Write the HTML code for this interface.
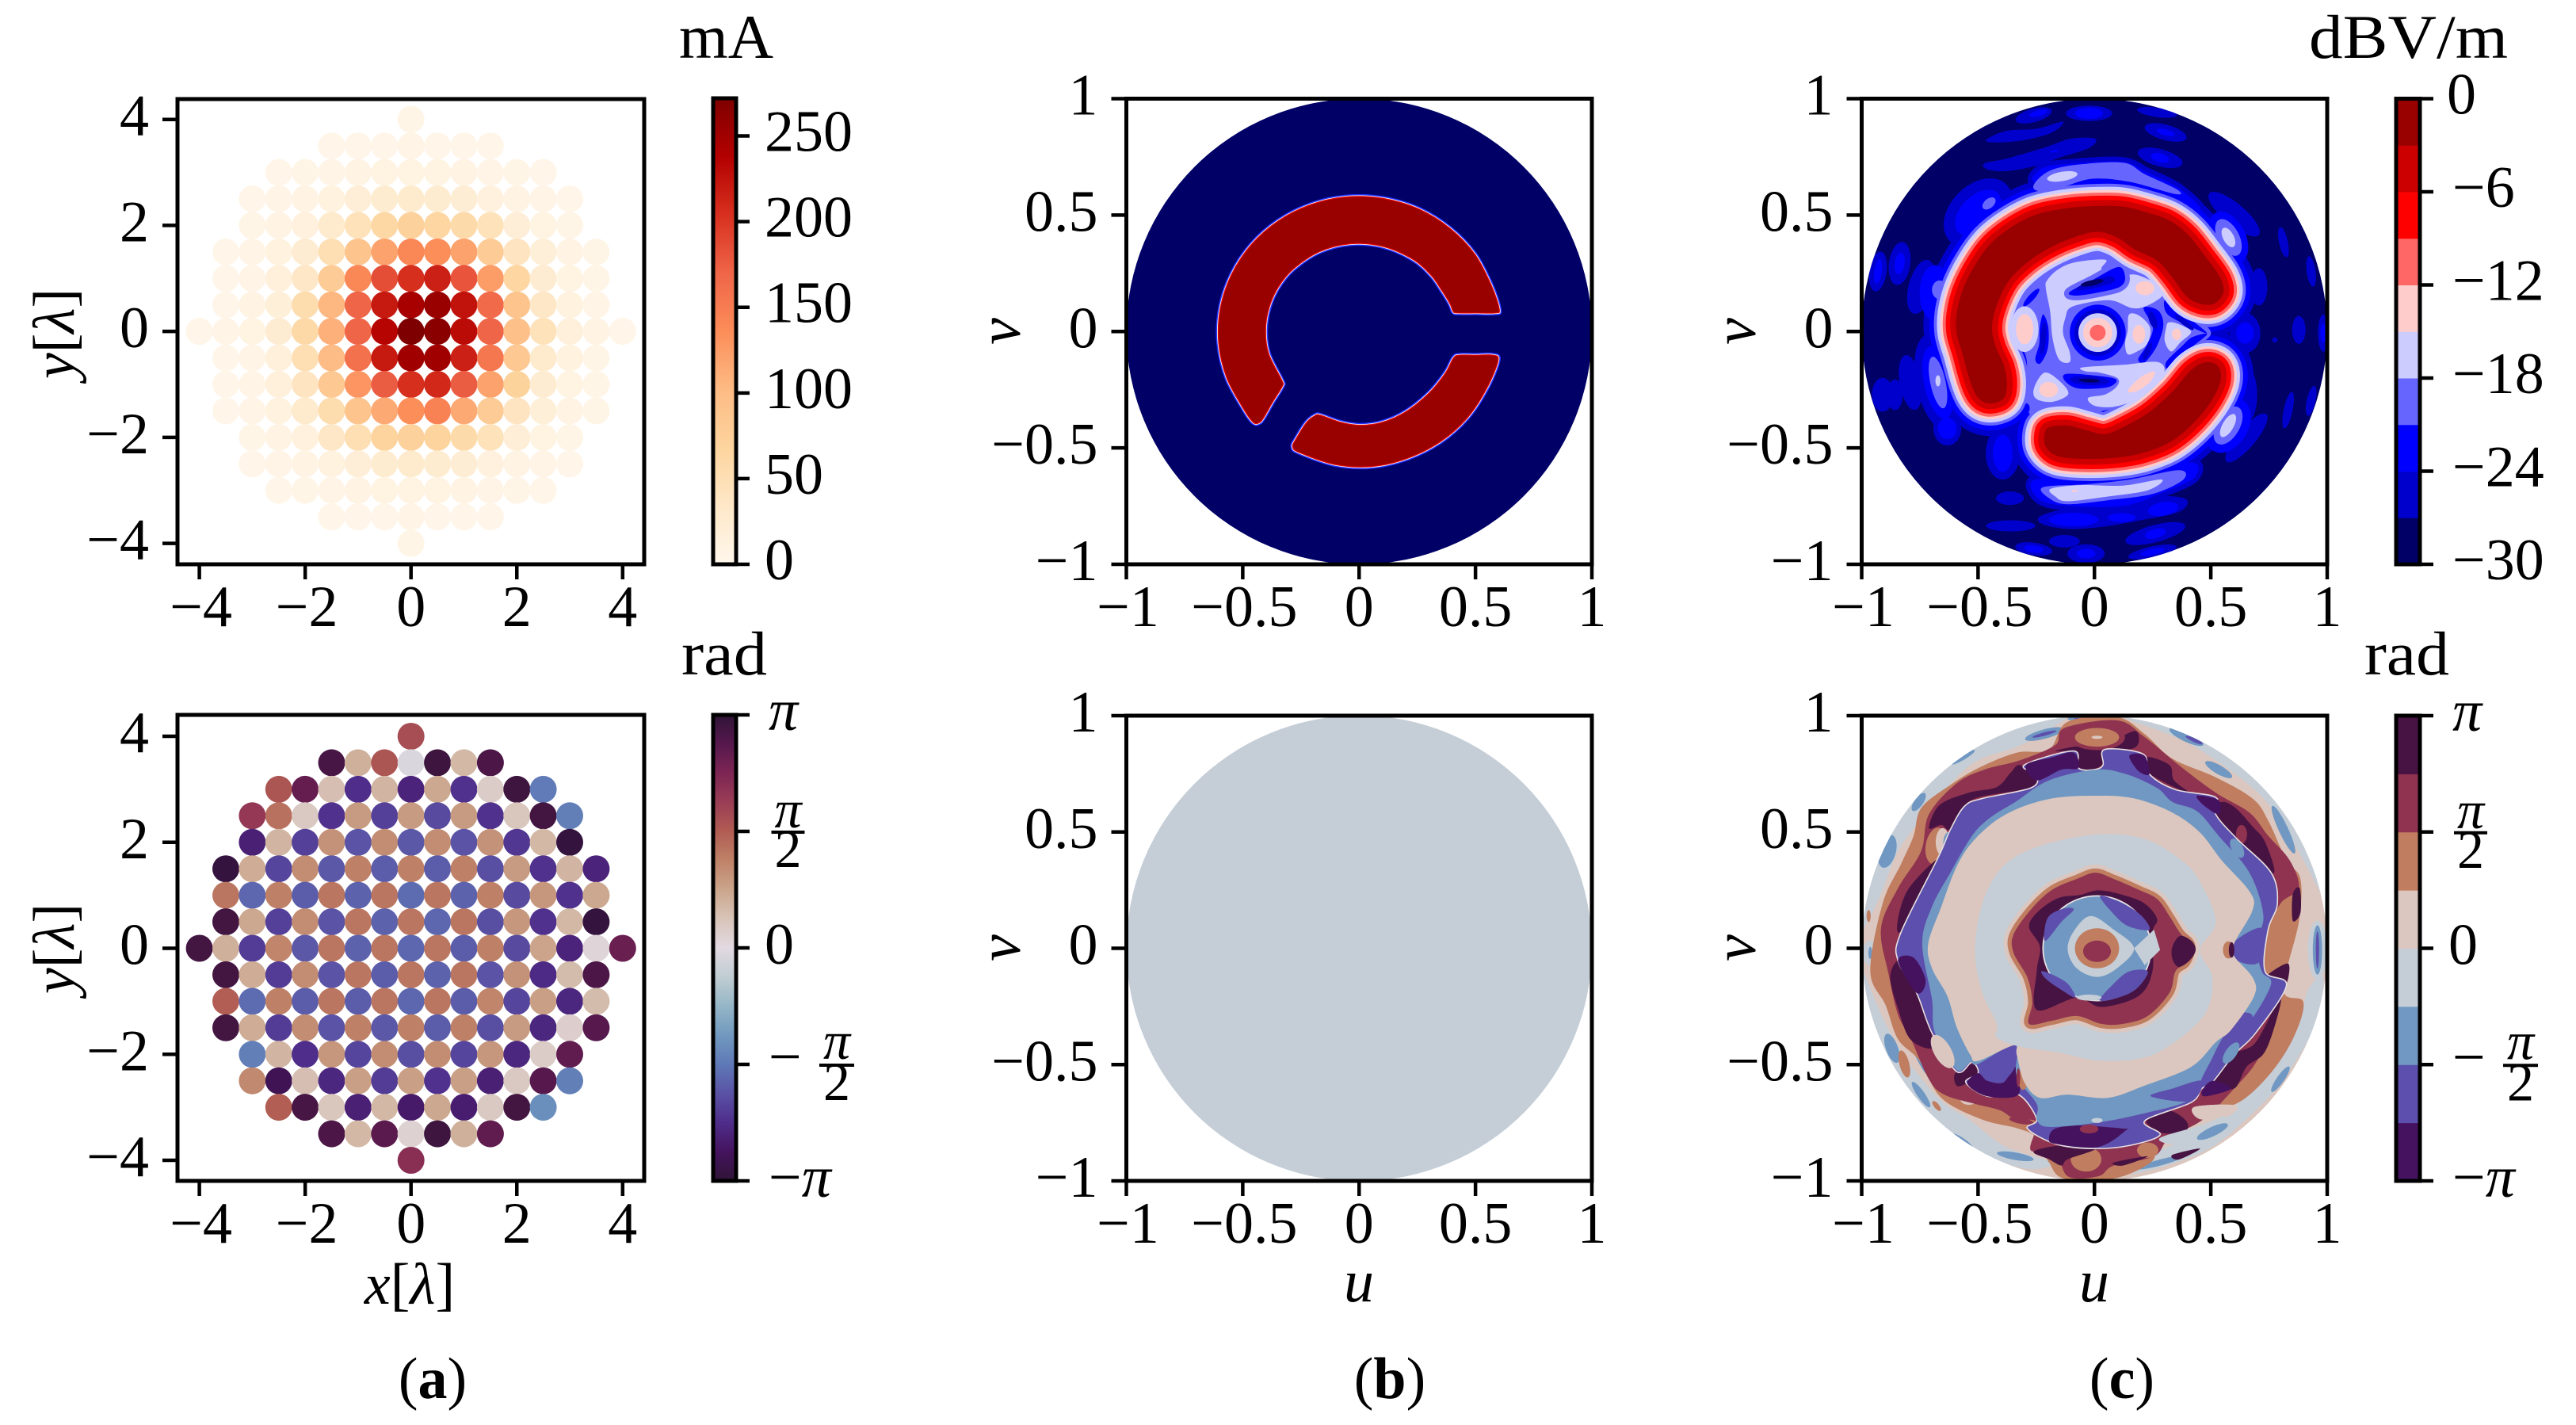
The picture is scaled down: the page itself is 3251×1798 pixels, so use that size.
<!DOCTYPE html>
<html lang="en">
<head>
<meta charset="utf-8">
<title>Antenna array excitation and radiation pattern figure</title>
<style>
html,body{margin:0;padding:0;background:#fff;}
svg{display:block;}
text{font-family:"Liberation Serif","DejaVu Serif",serif;fill:#000;}
.it{font-style:italic;}
</style>
</head>
<body>
<svg id="figure" xmlns="http://www.w3.org/2000/svg" width="3251" height="1798" viewBox="0 0 3251 1798">
<rect x="0" y="0" width="3251" height="1798" fill="#ffffff"/>
<defs>
<linearGradient id="amp-grad" x1="0" y1="1" x2="0" y2="0"></linearGradient>
<linearGradient id="phase-grad" x1="0" y1="1" x2="0" y2="0"></linearGradient>
<clipPath id="clip-c1"><circle cx="2643.25" cy="418.25" r="293.75"/></clipPath>
<clipPath id="clip-c2"><circle cx="2643.25" cy="1196.5" r="293.75"/></clipPath>
</defs>
<g id="marks"></g>
<text x="857" y="73" font-size="78" textLength="119" lengthAdjust="spacingAndGlyphs">mA</text>
<text x="860" y="851" font-size="78" textLength="108" lengthAdjust="spacingAndGlyphs">rad</text>
<text x="2914" y="73" font-size="78" textLength="251" lengthAdjust="spacingAndGlyphs">dBV/m</text>
<text x="2984" y="851" font-size="78" textLength="107" lengthAdjust="spacingAndGlyphs">rad</text>
<text transform="translate(93,421) rotate(-90)" text-anchor="middle" font-size="74"><tspan class="it">y</tspan>[<tspan class="it">λ</tspan>]</text>
<text transform="translate(93,1197) rotate(-90)" text-anchor="middle" font-size="74"><tspan class="it">y</tspan>[<tspan class="it">λ</tspan>]</text>
<text x="517" y="1645" text-anchor="middle" font-size="74"><tspan class="it">x</tspan>[<tspan class="it">λ</tspan>]</text>
<text transform="translate(1287,418) rotate(-90)" text-anchor="middle" font-size="76" class="it">v</text>
<text transform="translate(1287,1196) rotate(-90)" text-anchor="middle" font-size="76" class="it">v</text>
<text transform="translate(2215,418) rotate(-90)" text-anchor="middle" font-size="76" class="it">v</text>
<text transform="translate(2215,1196) rotate(-90)" text-anchor="middle" font-size="76" class="it">v</text>
<text x="1715" y="1642" text-anchor="middle" font-size="76" class="it">u</text>
<text x="2643" y="1642" text-anchor="middle" font-size="76" class="it">u</text>
<text x="546" y="1764" text-anchor="middle" font-size="74">(<tspan font-weight="bold">a</tspan>)</text>
<text x="1754" y="1764" text-anchor="middle" font-size="74">(<tspan font-weight="bold">b</tspan>)</text>
<text x="2678" y="1764" text-anchor="middle" font-size="74">(<tspan font-weight="bold">c</tspan>)</text>
</svg>
<script>
/* ---------- data: array element grid ---------- */
const elementRowY = [4,3.5,3,2.5,2,1.5,1,0.5,0,-0.5,-1,-1.5,-2,-2.5,-3,-3.5,-4];
const elementSpacing = 0.5;
const amplitudeRows = [
[5],
[3,4,4,6,4,4,3],
[4,5,6,8,10,10,10,8,6,5,4],
[4,6,8,12,20,26,28,26,22,14,8,6,4],
[5,8,14,30,45,62,72,65,58,45,20,10,5],
[3,6,12,25,50,90,120,140,135,120,80,40,18,8,5],
[3,6,15,35,80,140,185,205,215,180,125,65,25,10,5],
[4,8,18,55,105,170,220,245,255,225,165,90,35,12,6],
[4,6,10,25,60,110,170,235,272,265,230,170,95,45,15,8,4],
[3,7,15,50,100,160,220,250,250,215,155,85,30,12,5],
[3,6,15,40,85,130,175,205,210,175,120,70,25,10,5],
[3,6,12,30,55,90,115,135,145,115,80,40,18,8,5],
[5,8,14,35,50,68,72,68,58,45,20,10,5],
[4,6,8,12,20,26,30,26,22,14,8,6,4],
[4,5,6,8,10,10,10,8,6,5,4],
[3,4,4,6,4,4,3],
[5]
];
const phaseRows = [
[1.75],
[2.9,0.65,1.65,-0.1,3.0,0.55,2.85],
[1.65,2.6,0.45,-2.35,0.6,-2.5,0.75,-2.3,0.25,3.0,-1.55],
[2.05,1.35,0.3,-2.3,0.9,-2.15,0.9,-2.05,0.9,-2.3,0.35,2.95,-1.5],
[-2.55,0.6,-2.15,1.0,-1.95,1.05,-1.9,1.05,-1.95,1.0,-2.25,0.55,-3.05],
[-3.05,0.7,-2.1,1.05,-1.9,1.2,-1.85,1.2,-1.85,1.2,-2.0,0.9,-2.3,0.6,-2.5],
[1.3,-1.75,1.2,-1.85,1.3,-1.8,1.3,-1.7,1.3,-1.8,1.2,-2.05,0.95,-2.3,0.75],
[2.95,0.75,-2.15,1.05,-1.95,1.3,-1.8,1.3,-1.75,1.3,-2.0,0.95,-2.3,0.55,-3.05],
[2.95,0.65,-2.2,1.15,-1.9,1.3,-1.8,1.3,-1.75,1.3,-1.85,1.2,-2.05,0.8,-2.5,0.1,2.55],
[2.95,0.7,-2.2,1.05,-1.95,1.3,-1.85,1.3,-1.8,1.3,-1.95,1.0,-2.4,0.5,2.85],
[1.55,-1.7,1.2,-1.85,1.3,-1.85,1.3,-1.75,1.3,-1.85,1.15,-2.1,0.85,-2.45,0.5],
[2.95,0.7,-2.2,1.05,-1.95,1.2,-1.9,1.2,-1.85,1.2,-2.0,0.9,-2.45,0.2,2.75],
[-1.5,0.6,-2.35,0.95,-2.1,1.05,-2.0,1.05,-2.1,0.95,-2.45,0.25,2.65],
[1.1,-2.85,0.45,-2.45,0.85,-2.2,0.85,-2.3,0.85,-2.55,0.3,2.75,-1.5],
[1.55,2.9,0.35,-2.55,0.55,-2.65,0.75,-2.6,0.3,2.95,-1.3],
[2.85,0.55,2.7,0.15,3.0,0.65,2.65],
[2.2]
];
const amplitudeMax = 272;

/* ---------- colormaps ---------- */
const orRdStops = ['#fff7ec','#fee8c8','#fdd49e','#fdbb84','#fc8d59','#ef6548','#d7301f','#b30000','#7f0000'];
const twilightStops = ['#2f1436','#45135e','#4e2d8a','#5a52a5','#5f79b7','#7199bf','#95b6c6','#c0cdd2','#e2d9e2','#d8c4b8','#cba58c','#bf8268','#b15c53','#9a3d55','#7d2554','#56184d','#2f1436'];
const dbBandColors = ['#000066','#0000cc','#0000ff','#6666ff','#ccccff','#ffcccc','#ff6666','#ff0000','#cc0000','#990000'];
const phaseBandColors = ['#45125f','#5d4fad','#7098c2','#c5ced7','#dbc7bf','#c07d60','#8f3350','#471342'];
const dbBandStep = 3, dbMin = -30;

/* ---------- ticks ---------- */
const arrayTicks = [-4,-2,0,2,4];
const arrayTickLabels = ['−4','−2','0','2','4'];
const uvTicks = [-1,-0.5,0,0.5,1];
const uvTickLabels = ['−1','−0.5','0','0.5','1'];
const ampBarTicks = [0,50,100,150,200,250];
const dbBarTicks = [-30,-24,-18,-12,-6,0];
const dbBarTickLabels = ['−30','−24','−18','−12','−6','0'];
const phaseBarTicks = [-Math.PI,-Math.PI/2,0,Math.PI/2,Math.PI];

/* ---------- beam target mask (panel b top) ---------- */
const maskUpperSegment = [.425,.08,.5,.08,.585,.08,.602,.095,.568,.198,.496,.333,.389,.444,.256,.526,.105,.571,-.053,.578,-.207,.545,-.347,.475,-.463,.373,-.548,.245,-.596,.101,-.603,-.051,-.569,-.198,-.496,-.333,-.455,-.39,-.43,-.392,-.41,-.37,-.37,-.3,-.33,-.235,-.332,-.21,-.388,-.098,-.402,0,-.388,.098,-.348,.189,-.284,.267,-.17,.343,-.035,.377,.104,.365,.231,.31,.308,.243,.355,.177,.39,.12,.405,.085];
const maskLowerSegment = [.43,-.102,.5,-.102,.575,-.102,.597,-.125,.548,-.245,.463,-.373,.347,-.475,.207,-.545,.053,-.58,-.105,-.571,-.256,-.52,-.285,-.495,-.27,-.46,-.225,-.39,-.19,-.362,-.166,-.36,-.08,-.39,.005,-.403,.1,-.39,.2,-.345,.3,-.265,.37,-.18,.405,-.115];

/* ---------- realised pattern magnitude (panel c top), values in dB ---------- */
function E(val,u,v,ru,rv,rot){return {val:val,ell:[u,v,ru,rv,rot||0]};}
function P(val,pts,grow,straight){return {val:val,pts:pts,grow:grow||0,straight:!!straight};}

const ridgeUpper = [-.453,-.309,-.393,-.291,-.376,-.232,-.387,-.152,-.426,-.06,-.44,.02,-.42,.113,-.367,.219,-.287,.298,-.195,.358,-.089,.404,.011,.428,.097,.404,.176,.351,.269,.305,.335,.232,.395,.152,.454,.119,.514,.119,.554,.166,.54,.232,.474,.325,.401,.417,.322,.477,.229,.51,.123,.536,.017,.539,-.115,.53,-.248,.503,-.354,.45,-.446,.377,-.513,.285,-.566,.179,-.592,.073,-.592,-.007,-.566,-.099,-.532,-.219,-.499,-.285];
const ridgeLower = [-.195,-.411,-.115,-.404,-.036,-.424,.044,-.441,.123,-.411,.229,-.351,.335,-.258,.415,-.166,.481,-.132,.534,-.152,.54,-.219,.494,-.311,.415,-.404,.322,-.477,.203,-.523,.083,-.543,-.049,-.547,-.155,-.536,-.208,-.497,-.215,-.444];
const ridgeSkirtDb = [-25.5,-22.5,-19.5];
const ridgeSkirtWidth = [.14,.115,.095];
const ridgeCoreDb = [-16.5,-13.5,-10.5,-7.5,-4.5,-1.5];
const ridgeCoreWidth = [.082,.068,.057,.044,.025,0];
const farLevels = [-25.5,-22.5,-19.5,-16.5,-13.5];

const topBandOuter = [-.261,.643,-.221,.702,-.089,.722,.123,.729,.229,.682,.362,.616,.454,.523,.282,.576,-.115,.616];
const bottomBandOuter = [-.268,-.643,-.115,-.629,.15,-.636,.415,-.563,.428,-.629,.282,-.696,.123,-.749,-.115,-.749,-.235,-.722];

const farField = [
E(-25.5,-.261,.928,.08,.029,-15),E(-25.5,-.023,.937,.099,.033),E(-25.5,.269,.941,.086,.02,8),E(-25.5,.306,.855,.093,.033,15),E(-25.5,.282,.746,.099,.037,15),
P(-25.5,[-.466,.822,-.38,.861,-.248,.871,-.135,.901,-.182,.855,-.301,.822,-.42,.812]),
P(-25.5,[-.473,.722,-.38,.742,-.221,.788,-.102,.828,.004,.828,-.023,.788,-.142,.749,-.261,.709,-.38,.689,-.46,.696]),
E(-25.5,.6,.504,.139,.046,40),E(-25.5,.812,.384,.019,.066,-12),E(-25.5,.931,.258,.019,.066,-8),E(-25.5,.706,.192,.037,.08),
E(-25.5,.878,.007,.029,.06),E(-25.5,.984,-.007,.024,.08),E(-25.5,.647,-.007,.066,.086),E(-25.5,.775,-.036,.011,.011),
E(-25.5,.653,-.457,.133,.04,-50),E(-25.5,.832,-.338,.019,.08,12),E(-25.5,.931,-.298,.019,.066,12),E(-25.5,.653,-.272,.046,.119),
E(-25.5,-.93,.258,.037,.086,8),E(-25.5,-.837,.292,.046,.093,8),E(-25.5,-.745,.192,.053,.119,15),E(-25.5,-.91,-.272,.046,.073),
E(-25.5,-.857,-.272,.033,.066),E(-25.5,-.791,-.219,.046,.119,-10),E(-25.5,-.672,-.219,.093,.212,-12),E(-25.5,-.632,-.417,.06,.073),
E(-25.5,-.394,-.523,.073,.113),E(-25.5,-.5,.51,.172,.119,-45),E(-25.5,-.363,-.716,.06,.029),
P(-25.5,[-.235,-.795,-.115,-.762,.123,-.755,.282,-.709,.395,-.722,.362,-.775,.176,-.815,.017,-.841,-.115,-.848,-.221,-.828]),
E(-25.5,-.36,-.835,.106,.024),E(-25.5,.262,-.868,.133,.037,-15),E(-25.5,-.129,-.901,.066,.027),E(-25.5,-.261,-.934,.08,.027,8),
E(-25.5,-.036,-.954,.08,.04),E(-25.5,.249,-.947,.106,.024,-12),
P(-25.5,topBandOuter,.02),P(-25.5,bottomBandOuter,.02),
E(-22.5,-.241,.937,.04,.013,-15),E(-22.5,-.023,.937,.06,.024),E(-22.5,.306,.855,.04,.013,15),E(-22.5,.282,.746,.04,.019,15),
E(-22.5,-.173,.775,.02,.005,-10),
E(-22.5,.647,-.007,.037,.046),E(-22.5,.984,-.007,.013,.04),E(-22.5,-.93,.258,.016,.053,8),E(-22.5,-.837,.292,.021,.046,8),
E(-22.5,-.672,-.219,.06,.159,-12),E(-22.5,-.685,.166,.066,.119),E(-22.5,-.632,-.417,.04,.046),E(-22.5,-.394,-.523,.042,.08),
E(-22.5,-.5,.51,.119,.073,-45),
P(-22.5,topBandOuter),P(-22.5,bottomBandOuter),
E(-22.5,-.089,-.808,.106,.029),E(-22.5,.117,-.799,.06,.019),E(-22.5,.295,-.762,.066,.029,-10),E(-22.5,.262,-.868,.046,.02,-15),
E(-22.5,-.261,-.934,.04,.016,8),E(-22.5,-.036,-.954,.04,.02),E(-22.5,.249,-.947,.053,.013,-12),
E(-22.5,.576,.404,.073,.119,-28),E(-22.5,.574,-.404,.086,.126,30),
P(-19.5,[-.261,.629,-.195,.689,-.076,.716,.123,.725,.216,.676,.355,.61,.348,.59,.15,.643,-.009,.656,-.129,.623,-.235,.603]),
E(-19.5,-.453,.55,.033,.02,-40),E(-19.5,-.665,.179,.033,.04),E(-19.5,-.672,-.219,.033,.113,-12),E(-19.5,.576,.404,.046,.086,-28),E(-19.5,.574,-.404,.05,.09,30),
P(-19.5,[-.221,-.669,-.036,-.656,.15,-.636,.362,-.596,.382,-.636,.256,-.696,.083,-.722,-.115,-.742,-.195,-.716]),
E(-16.5,-.138,.666,.066,.02,-10),E(-16.5,.576,.404,.023,.046,-28),E(-16.5,.574,-.404,.024,.056,30),E(-16.5,-.672,-.212,.011,.024),
P(-16.5,[-.188,-.676,-.062,-.66,.123,-.662,.289,-.636,.229,-.682,.057,-.709,-.115,-.729,-.168,-.709]),
E(-13.5,-.086,-.685,.013,.004)
];

const innerField = [
P(-19.5,[-.373,.005,-.317,.152,-.203,.265,-.056,.345,.047,.345,.149,.288,.285,.197,.376,.095,.501,-.007,.376,-.098,.285,-.2,.149,-.302,.001,-.347,-.146,-.347,-.283,-.347,-.294,-.109]),
P(-16.5,[-.084,.297,.047,.308,.03,.268,.081,.243,.132,.243,.183,.243,.251,.214,.296,.18,.285,.146,.217,.107,.16,.101,.081,.132,.001,.129,-.101,.104,-.124,.061,-.135,-.007,-.107,-.086,-.107,-.132,-.152,-.12,-.18,-.029,-.19,.084,-.209,.186,-.203,.22,-.158,.265]),
E(-13.5,.217,.186,.04,.03),
P(-19.5,[-.107,.169,-.01,.22,.103,.277,.132,.231,.109,.192,.024,.169,-.078,.154],.02),
P(-22.5,[-.107,.169,-.01,.22,.103,.277,.132,.231,.109,.192,.024,.169,-.078,.154]),
P(-25.5,[-.078,.186,-.01,.22,.069,.237,.086,.214,.024,.192,-.061,.177]),
E(-28.5,-.01,.209,.05,.012,-12),
E(-22.5,-.271,.146,.05,.013,-48),
P(-22.5,[-.22,.073,-.198,.016,-.201,-.075,-.232,-.137,-.254,-.12,-.237,-.052,-.235,.016]),
E(-25.5,-.22,-.029,.012,.07,5),
E(-19.5,.014,-.005,.135,.135),E(-22.5,.014,-.005,.12,.12),E(-25.5,.014,-.005,.10,.10),E(-16.5,.014,-.005,.083,.083),E(-13.5,.014,-.005,.0625,.0625),E(-10.5,.014,-.005,.034,.034),
P(-16.5,[.149,.073,.194,.067,.239,.016,.228,-.052,.183,-.086,.143,-.098,.132,-.052,.143,.005]),
E(-13.5,.191,-.012,.027,.04),
P(-22.5,[.211,.101,.274,.09,.296,.027,.268,-.063,.217,-.132,.188,-.12,.222,-.063,.251,.016]),
E(-25.5,.251,.05,.016,.04,-20),E(-25.5,.228,-.086,.012,.04,25),
P(-16.5,[.319,.039,.359,.033,.415,-.001,.37,-.046,.33,-.086,.302,-.041,.308,.016]),
E(-13.5,.353,-.012,.02,.025),
P(-22.5,[.308,.135,.387,.073,.484,-.007,.41,.022,.33,.061,.302,.095]),
P(-22.5,[.484,-.012,.41,-.075,.325,-.16,.308,-.132,.376,-.063,.421,-.024]),
E(-25.5,.387,.039,.05,.012,38),
E(-16.5,-.30,.01,.06,.098),E(-13.5,-.30,.01,.037,.065),
P(-16.5,[-.26,-.245,-.215,-.177,-.152,-.211,-.112,-.268,-.18,-.302,-.249,-.29]),
E(-13.5,-.197,-.25,.04,.033),
P(-22.5,[-.124,-.183,-.01,-.188,.092,-.205,.058,-.239,-.067,-.245,-.124,-.215]),
E(-25.5,-.022,-.211,.085,.02,3),E(-28.5,-.022,-.211,.045,.008,3),
P(-16.5,[-.05,-.154,.126,-.143,.274,-.132,.296,-.188,.205,-.279,.092,-.322,.001,-.319,-.027,-.285,.047,-.27,.098,-.234,.098,-.2,.024,-.177,-.039,-.171]),
P(-13.5,[.143,-.256,.194,-.2,.257,-.171,.24,-.216,.183,-.256]),
E(-22.5,-.29,-.33,.012,.02)
];

/* ---------- realised pattern phase (panel c bottom), values in rad ---------- */
const phaseOuterLayers = [
E(.39,0,0,1,1),
P(-.39,[.123,.994,.335,.947,.574,.828,.746,.669,.878,.484,.984,.219,.891,.391,.772,.59,.64,.722,.428,.868,.282,.934]),
P(-.39,[-.115,1,-.301,.96,-.539,.868,-.711,.735,-.87,.51,-.989,.232,-.996,.086,-.923,.219,-.844,.417,-.738,.563,-.592,.735,-.486,.815,-.327,.868,-.195,.941]),
P(-.39,[-.996,-.099,-.963,-.285,-.87,-.51,-.725,-.709,-.539,-.854,-.301,-.947,-.181,-.921,-.38,-.854,-.539,-.735,-.658,-.656,-.791,-.497,-.897,-.325]),
P(-.39,[.984,-.126,.944,-.338,.812,-.563,.666,-.722,.481,-.868,.216,-.96,.11,-.947,.454,-.788,.64,-.642,.852,-.378,.918,-.179]),
E(-.39,.958,-.007,.042,.126),E(-1.18,.958,-.007,.02,.106),E(-1.96,.958,-.007,.007,.08),
E(-.39,-.963,-.02,.033,.053),E(-1.18,-.963,-.02,.008,.026),E(1.18,-.97,.139,.009,.026),
E(-1.18,-.89,.417,.037,.073,15),E(-1.18,-.755,.629,.019,.046,35),E(-1.18,-.566,.821,.06,.012,-30),
E(-1.18,-.215,.921,.086,.02,-15),E(-1.96,-.215,.921,.053,.007,-15),
E(-1.18,.534,.768,.066,.019,30),E(-1.18,.395,.908,.08,.02,25),E(-1.96,.428,.895,.04,.008,25),
E(-1.18,.812,.51,.02,.113,-25),E(-1.18,-.023,.987,.093,.013),E(-1.96,-.023,.987,.066,.004),
E(-1.18,-.87,-.43,.026,.066,-20),E(-1.18,-.758,-.457,.013,.093,-25),E(-1.18,-.745,-.629,.016,.066,-35),
E(1.18,-.817,-.497,.021,.06,-15),E(1.18,-.678,-.678,.011,.026,-40),E(-1.18,-.566,-.828,.053,.011,35),
E(-1.18,.799,-.563,.016,.066,35),E(-1.18,-.34,-.894,.08,.016,10),E(-1.18,.282,-.921,.106,.013,-15),
P(1.18,[-.334,.841,-.486,.781,-.619,.702,-.744,.603,-.777,.483,-.83,.364,-.91,.192,-.963,-.099,-.897,-.245,-.844,-.391,-.751,-.484,-.658,-.643,-.486,-.735,-.327,-.775,-.248,-.815,-.195,-.921,-.129,-.99,.083,-.99,.242,-.921,.282,-.841,.454,-.682,.607,-.669,.746,-.55,.852,-.391,.898,-.232,.812,-.179,.878,.113,.885,.298,.825,.378,.746,.55,.68,.643,.521,.735,.335,.815,.216,.921,.097,.994,-.115,.974,-.195,.855]),
E(.39,-.539,-.649,.037,.024),
P(1.96,[-.321,.808,-.473,.768,-.592,.709,-.711,.576,-.745,.417,-.844,.258,-.917,.086,-.884,-.113,-.844,-.285,-.791,-.384,-.711,-.563,-.645,-.629,-.513,-.669,-.407,-.696,-.341,-.735,-.248,-.749,-.274,-.868,-.168,-.868,-.115,-.98,.017,-.98,.083,-.934,.256,-.894,.322,-.815,.468,-.735,.6,-.603,.706,-.47,.799,-.232,.832,-.099,.739,-.113,.733,.046,.799,.192,.878,.258,.839,.378,.746,.484,.666,.583,.521,.669,.362,.788,.216,.908,.097,.98,-.129,.947,-.168,.874]),
E(1.18,-.036,-.907,.066,.053),E(1.18,.229,-.868,.046,.033),
E(1.18,-.68,.44,.045,.08,10),E(.39,-.652,.457,.03,.06),E(-1.18,-.625,.45,.025,.05),
P(2.75,[-.711,.517,-.665,.616,-.539,.669,-.42,.693,-.36,.755,-.321,.788,-.248,.742,-.281,.689,-.499,.649,-.572,.596,-.619,.51,-.658,.53]),
P(2.75,[-.844,.126,-.797,.258,-.671,.384,-.724,.258,-.832,.073]),
P(2.75,[-.844,-.053,-.877,-.126,-.844,-.258,-.791,-.391,-.698,-.43,-.705,-.351,-.764,-.192,-.791,-.099]),
P(2.75,[-.168,.848,-.076,.868,.004,.868,.083,.894,.176,.934,.189,.881,.15,.855,.044,.855,.037,.795,-.009,.768,-.062,.768,-.082,.841]),
P(2.75,[.223,.822,.322,.788,.342,.722,.415,.662,.229,.755]),
P(2.75,[.547,.629,.606,.603,.68,.523,.733,.457,.772,.325,.68,.378,.521,.576]),
E(1.96,.632,.49,.024,.04),
P(2.75,[.852,.232,.882,.258,.885,.152,.852,.119]),
P(2.75,[.739,-.119,.832,-.066,.819,-.159,.746,-.152]),
P(2.75,[.792,-.219,.693,-.404,.6,-.457,.507,-.576,.6,-.603,.653,-.51,.733,-.444,.792,-.272]),
P(2.75,[.223,-.742,.309,-.696,.388,-.735,.395,-.781,.295,-.795]),
P(2.75,[-.598,-.537,-.526,-.497,-.5,-.543,-.553,-.583,-.592,-.59]),
P(2.75,[-.261,-.874,-.142,-.848,.004,-.861,-.115,-.907,-.142,-.934,-.195,-.907]),
P(2.75,[.083,-.921,.229,-.894,.123,-.934]),
P(2.75,[.335,-.888,.454,-.861,.362,-.908]),
E(1.96,.011,.907,.12,.055),E(1.18,.011,.907,.095,.04),E(.39,.011,.907,.024,.007),
P(.39,[.428,-.682,.607,-.675,.574,-.722,.454,-.735]),
P(-.39,[.282,-.815,.454,-.762,.56,-.722,.454,-.815,.335,-.841]),
E(-1.18,.507,-.788,.073,.02,-25),
E(1.96,-.314,-.742,.053,.013,10)
];
const phaseWrapRing = [-.301,.788,-.089,.848,-.069,.775,-.003,.768,.037,.788,.044,.855,.209,.835,.236,.749,.348,.682,.521,.649,.521,.576,.613,.47,.759,.325,.786,.192,.746,.08,.733,-.099,.825,-.159,.693,-.364,.6,-.457,.507,-.576,.461,-.603,.415,-.663,.216,-.742,.282,-.802,.15,-.848,-.009,-.861,-.168,-.841,-.288,-.775,-.248,-.735,-.327,-.629,-.46,-.636,-.553,-.576,-.5,-.537,-.526,-.49,-.592,-.53,-.698,-.364,-.764,-.192,-.844,-.053,-.832,.066,-.671,.391,-.619,.51,-.559,.61,-.486,.643,-.274,.689,-.248,.742];
const phaseInnerLayers = [
P(-2.75,[-.294,.788,-.181,.821,-.089,.841,-.069,.775,-.142,.768,-.248,.722]),
P(-2.75,[.15,.828,.215,.828,.236,.749,.189,.762]),
P(-2.75,[-.546,-.583,-.5,-.537,-.46,-.57,-.39,-.576,-.341,-.51,-.327,-.629,-.46,-.636]),
P(-2.75,[-.168,-.775,-.062,-.762,.123,-.775,.136,-.782,.017,-.854,-.168,-.841,-.195,-.815]),
P(-2.75,[.461,-.616,.507,-.57,.587,-.603,.481,-.636]),
P(-2.75,[.441,.656,.534,.636,.534,.576,.468,.616]),
P(-2.75,[-.844,-.053,-.777,-.04,-.725,-.139,-.764,-.192]),
P(-1.18,[-.34,.629,-.195,.722,.004,.768,.136,.749,.269,.689,.335,.629,.441,.589,.534,.483,.666,.325,.726,.139,.693,.02,.719,-.099,.759,-.152,.68,-.298,.574,-.417,.507,-.51,.461,-.57,.401,-.656,.216,-.709,.017,-.749,-.195,-.768,-.248,-.735,-.248,-.669,-.334,-.55,-.341,-.417,-.5,-.497,-.534,-.49,-.592,-.523,-.685,-.364,-.698,-.219,-.74,.02,-.698,.179,-.619,.325,-.526,.483,-.446,.563]),
P(-1.96,[.242,-.636,.335,-.603,.461,-.57,.415,-.656]),
P(-1.96,[.461,-.57,.587,-.431,.68,-.298,.613,-.285,.547,-.391,.507,-.47]),
E(-1.18,.587,-.45,.024,.053,35),E(-1.18,.613,.43,.024,.046,-30),
P(-1.96,[.6,.026,.719,.086,.706,-.06,.6,-.046]),
E(.39,-.652,-.444,.037,.08,-30),
E(1.18,-.307,-.563,.02,.046),E(1.96,-.327,-.556,.008,.04),
P(-1.96,[-.473,-.503,-.387,-.444,-.347,-.45,-.341,-.51,-.393,-.57,-.453,-.563]),
E(-.39,.011,-.74,.024,.011),E(1.96,-.023,-.777,.04,.019),
P(.39,[.017,.656,.176,.643,.335,.583,.454,.497,.547,.378,.666,.245,.68,.166,.6,.02,.6,-.033,.68,-.126,.686,-.205,.587,-.351,.521,-.404,.415,-.51,.216,-.59,.057,-.643,-.115,-.629,-.234,-.643,-.301,-.576,-.334,-.457,-.347,-.417,-.5,-.484,-.534,-.457,-.592,-.338,-.632,-.205,-.698,-.086,-.714,.02,-.658,.179,-.592,.351,-.513,.47,-.38,.576,-.195,.642]),
P(-.39,[.017,.49,.216,.47,.375,.378,.454,.285,.521,.113,.454,-.007,.507,-.126,.481,-.272,.362,-.391,.216,-.47,.017,-.483,-.142,-.45,-.314,-.424,-.42,-.384,-.42,-.325,-.486,-.179,-.513,.007,-.473,.219,-.38,.364,-.221,.444]),
E(1.18,.576,-.007,.024,.037),E(2.75,.589,-.007,.012,.033)
];
const phaseCoreWine = [.004,.325,.083,.298,.189,.252,.269,.212,.322,.139,.368,.066,.415,.013,.395,-.06,.348,-.099,.322,-.192,.229,-.291,.123,-.325,.03,-.325,-.076,-.291,-.181,-.311,-.281,-.325,-.267,-.232,-.288,-.126,-.347,-.02,-.347,.06,-.268,.172,-.181,.252,-.076,.298];
const phaseCoreEllipse = E(-1.18,.011,0,.232,.225);
const phaseCoreLayers = [
P(.39,phaseCoreWine,.035),
P(1.18,phaseCoreWine,.018),
P(1.96,phaseCoreWine),
P(2.75,[.017,.249,.123,.229,.216,.192,.269,.126,.249,.066,.249,-.099,.189,-.205,.03,-.252,-.076,-.212,-.248,-.265,-.248,-.099,-.234,.007,-.281,.093,-.241,.159,-.155,.216,-.062,.229]),
P(2.75,[.335,.007,.368,.053,.415,.033,.435,-.007,.408,-.053,.362,-.08,.335,-.046])
];
const phaseCoreInner = [
P(-1.96,[.024,.225,.123,.192,.203,.139,.236,.08,.15,.093,.09,.139]),
P(-1.96,[-.215,.073,-.195,.139,-.128,.172,-.089,.166,-.142,.113,-.208,.033]),
P(-1.96,[-.228,-.099,-.181,-.113,-.115,-.152,-.082,-.212,-.142,-.179,-.208,-.132]),
P(-1.96,[.024,-.225,.083,-.152,.15,-.099,.229,-.099,.189,-.166,.123,-.205]),
P(-.39,[-.016,.139,.083,.08,.17,0,.097,-.086,.011,-.123,-.076,-.086,-.115,-.007,-.089,.073]),
P(-.39,[.17,0,.256,.08,.282,-.007,.216,-.073],0,true),
E(-.39,-.023,-.212,.053,.013),
E(1.18,.011,0,.095,.086),
E(1.96,.011,-.013,.06,.046)
];

/* ---------- drawing helpers ---------- */
const NS = 'http://www.w3.org/2000/svg';
const root = document.getElementById('marks');
function mk(tag, attrs, parent){
  const el = document.createElementNS(NS, tag);
  for (const k in attrs) el.setAttribute(k, attrs[k]);
  (parent || root).appendChild(el);
  return el;
}
function linear(d0, d1, r0, r1){ return v => r0 + (v - d0) * (r1 - r0) / (d1 - d0); }
function hexRgb(h){ return [parseInt(h.substr(1,2),16),parseInt(h.substr(3,2),16),parseInt(h.substr(5,2),16)]; }
function sampleMap(stops, t){
  t = Math.max(0, Math.min(1, t));
  const f = t * (stops.length - 1), i = Math.min(stops.length - 2, Math.floor(f)), w = f - i;
  const a = hexRgb(stops[i]), b = hexRgb(stops[i + 1]);
  return 'rgb(' + a.map((c, k) => Math.round(c + (b[k] - c) * w)).join(',') + ')';
}
function dbColor(v){
  const i = Math.max(0, Math.min(dbBandColors.length - 1, Math.floor((v - dbMin) / dbBandStep)));
  return dbBandColors[i];
}
function phaseColor(v){
  const i = Math.max(0, Math.min(phaseBandColors.length - 1, Math.floor((v + Math.PI) / (Math.PI / 4))));
  return phaseBandColors[i];
}
function pairs(flat, p){
  const out = [];
  for (let i = 0; i < flat.length; i += 2) out.push([p.x(flat[i]), p.y(flat[i + 1])]);
  return out;
}
function smoothPath(P0){
  const n = P0.length;
  let d = 'M' + P0[0][0].toFixed(1) + ' ' + P0[0][1].toFixed(1);
  for (let i = 0; i < n; i++){
    const a = P0[(i - 1 + n) % n], b = P0[i], c = P0[(i + 1) % n], e = P0[(i + 2) % n];
    d += 'C' + (b[0] + (c[0] - a[0]) / 6).toFixed(1) + ' ' + (b[1] + (c[1] - a[1]) / 6).toFixed(1) + ' ' +
         (c[0] - (e[0] - b[0]) / 6).toFixed(1) + ' ' + (c[1] - (e[1] - b[1]) / 6).toFixed(1) + ' ' +
         c[0].toFixed(1) + ' ' + c[1].toFixed(1);
  }
  return d + 'Z';
}
function straightPath(P0){ return 'M' + P0.map(q => q[0].toFixed(1) + ' ' + q[1].toFixed(1)).join('L') + 'Z'; }
function unitPx(p){ return Math.abs(p.x(1) - p.x(0)); }

function drawRegion(layer, p, colorFn, group){
  const col = colorFn(layer.val);
  if (layer.ell){
    const e = layer.ell, u = unitPx(p);
    const el = mk('ellipse', {cx:p.x(e[0]).toFixed(1), cy:p.y(e[1]).toFixed(1), rx:(e[2]*u).toFixed(1), ry:(e[3]*u).toFixed(1), fill:col,
      transform:'rotate(' + e[4] + ' ' + p.x(e[0]).toFixed(1) + ' ' + p.y(e[1]).toFixed(1) + ')'}, group);
    
    
  } else {
    const pts = pairs(layer.pts, p);
    const attrs = {d: layer.straight ? straightPath(pts) : smoothPath(pts), fill:col};
    if (layer.grow){
      attrs.stroke = col;
      attrs['stroke-width'] = (2 * layer.grow * unitPx(p)).toFixed(1);
      attrs['stroke-linejoin'] = 'round';
    }
    const el = mk('path', attrs, group);
    
    
  }
}

function drawAxes(p, xTicks, xLabels, yTicks, yLabels){
  xTicks.forEach((t, i) => {
    const tick = mk('line', {x1:p.x(t), x2:p.x(t), y1:p.bottom, y2:p.bottom + 19, stroke:'#000', 'stroke-width':4.5});
    
    
    const lab = mk('text', {x:p.x(t) + (xLabels[i].charAt(0) === '−' ? 2 : 0), y:p.bottom + 78, 'text-anchor':'middle', 'font-size':74});
    lab.textContent = xLabels[i];
    
    
  });
  yTicks.forEach((t, i) => {
    const tick = mk('line', {x1:p.left - 19, x2:p.left, y1:p.y(t), y2:p.y(t), stroke:'#000', 'stroke-width':4.5});
    
    
    const lab = mk('text', {x:p.left - 36, y:p.y(t) + 20, 'text-anchor':'end', 'font-size':74});
    lab.textContent = yLabels[i];
    
    
  });
  const frame = mk('rect', {x:p.left, y:p.top, width:p.right - p.left, height:p.bottom - p.top, fill:'none', stroke:'#000', 'stroke-width':5});
  
  
}

function barFrame(x0, x1, y0, y1){
  const f = mk('rect', {x:x0, y:y0, width:x1 - x0, height:y1 - y0, fill:'none', stroke:'#000', 'stroke-width':5});
  
  
}
function barTick(x1, y, len){
  const t = mk('line', {x1:x1, x2:x1 + len, y1:y, y2:y, stroke:'#000', 'stroke-width':4.5});
  
  
}
function barLabel(x, y, s, italic){
  const t = mk('text', {x:x, y:y, 'font-size':74});
  if (italic) t.setAttribute('font-style', 'italic');
  t.textContent = s;
  
  
}
function fraction(cx, x0, x1, yNum, yBar, yDen){
  const n = mk('text', {x:cx, y:yNum, 'text-anchor':'middle', 'font-size':68, 'font-style':'italic'});
  n.textContent = 'π';
  
  
  const b = mk('line', {x1:x0, x2:x1, y1:yBar, y2:yBar, stroke:'#000', 'stroke-width':4});
  
  
  const d = mk('text', {x:cx, y:yDen, 'text-anchor':'middle', 'font-size':68});
  d.textContent = '2';
  
  
}
function phaseBarLabels(cfg, yScale){
  barLabel(cfg.x, yScale(Math.PI) + 19, 'π', true);
  barLabel(cfg.x - 5, yScale(0) + 20, '0', false);
  barLabel(cfg.x, yScale(-Math.PI) + 20, '−π', false);
  const piLab = root.lastChild;
  piLab.innerHTML = '−<tspan font-style="italic">π</tspan>';
  fraction(cfg.posCx, cfg.posCx - 21, cfg.posCx + 21, yScale(Math.PI / 2) - 5, yScale(Math.PI / 2) + 1, yScale(Math.PI / 2) + 45);
  const mx = mk('text', {x:cfg.x, y:yScale(-Math.PI / 2) + 15, 'font-size':74});
  mx.textContent = '−';
  
  
  fraction(cfg.negCx, cfg.negCx - 22, cfg.negCx + 22, yScale(-Math.PI / 2) - 7, yScale(-Math.PI / 2) + 1, yScale(-Math.PI / 2) + 45);
}

/* ---------- panels ---------- */
const panelA1 = {left:224, right:813, top:125, bottom:712, x:linear(-4,4,251.6,785.8), y:linear(-4,4,685.6,150.7)};
const panelA2 = {left:224, right:813, top:902, bottom:1490, x:linear(-4,4,251.6,785.8), y:linear(-4,4,1464,929)};
const panelB1 = {left:1421.5, right:2009, top:124.5, bottom:712, x:linear(-1,1,1421.5,2009), y:linear(-1,1,712,124.5)};
const panelB2 = {left:1421.5, right:2009, top:903, bottom:1490, x:linear(-1,1,1421.5,2009), y:linear(-1,1,1490,903)};
const panelC1 = {left:2349.5, right:2937, top:124.5, bottom:712, x:linear(-1,1,2349.5,2937), y:linear(-1,1,712,124.5)};
const panelC2 = {left:2349.5, right:2937, top:903, bottom:1490, x:linear(-1,1,2349.5,2937), y:linear(-1,1,1490,903)};

/* array dots */
function drawElements(p, rows, colorOf){
  rows.forEach((row, r) => {
    row.forEach((val, i) => {
      const ex = (i - (row.length - 1) / 2) * elementSpacing;
      const dot = mk('circle', {cx:p.x(ex).toFixed(1), cy:p.y(elementRowY[r]).toFixed(1), r:17, fill:colorOf(val)});
      
      
    });
  });
}
drawElements(panelA1, amplitudeRows, v => sampleMap(orRdStops, v / amplitudeMax));
drawElements(panelA2, phaseRows, v => sampleMap(twilightStops, (v + Math.PI) / (2 * Math.PI)));

/* panel b top */
{
  const p = panelB1, cx = p.x(0), cy = p.y(0), r = unitPx(p);
  const disc = mk('circle', {cx:cx, cy:cy, r:r, fill:dbBandColors[0]});
  
  
  [maskUpperSegment, maskLowerSegment].forEach(seg => {
    const d = smoothPath(pairs(seg, p));
    const halo = mk('path', {d:d, fill:'#0000ff', stroke:'#2233ff', 'stroke-width':6, 'stroke-linejoin':'round'});
    
    
    const light = mk('path', {d:d, fill:'#ffffff', stroke:'#f4e8f0', 'stroke-width':3, 'stroke-linejoin':'round'});
    
    
    const edge = mk('path', {d:d, fill:'#990000', stroke:'#e00000', 'stroke-width':1.2, 'stroke-linejoin':'round'});
    
    
  });
}
/* panel b bottom */
{
  const p = panelB2;
  const disc = mk('circle', {cx:p.x(0), cy:p.y(0), r:unitPx(p), fill:'#c5ced7'});
  
  
}
/* panel c top */
{
  const p = panelC1;
  const g = mk('g', {'clip-path':'url(#clip-c1)'});
  
  
  const disc = mk('circle', {cx:p.x(0), cy:p.y(0), r:unitPx(p), fill:dbColor(-28.5)}, g);
  
  
  farLevels.forEach(level => {
    const k = ridgeSkirtDb.indexOf(level);
    if (k >= 0){
      drawRegion(P(level, ridgeUpper, ridgeSkirtWidth[k]), p, dbColor, g);
      drawRegion(P(level, ridgeLower, ridgeSkirtWidth[k]), p, dbColor, g);
    }
    farField.filter(l => l.val === level).forEach(l => drawRegion(l, p, dbColor, g));
  });
  innerField.forEach(l => drawRegion(l, p, dbColor, g));
  ridgeCoreDb.forEach((level, k) => {
    drawRegion(P(level, ridgeUpper, ridgeCoreWidth[k]), p, dbColor, g);
    drawRegion(P(level, ridgeLower, ridgeCoreWidth[k]), p, dbColor, g);
  });
}
/* panel c bottom */
{
  const p = panelC2;
  const g = mk('g', {'clip-path':'url(#clip-c2)'});
  
  
  phaseOuterLayers.forEach(l => drawRegion(l, p, phaseColor, g));
  drawRegion(P(-1.96, phaseWrapRing), p, phaseColor, g);
  const cut = mk('path', {d:smoothPath(pairs(phaseWrapRing, p)), fill:'none', stroke:'#e6dfe0', 'stroke-width':1.6}, g);
  
  
  phaseInnerLayers.forEach(l => drawRegion(l, p, phaseColor, g));
  phaseCoreLayers.forEach(l => drawRegion(l, p, phaseColor, g));
  drawRegion(phaseCoreEllipse, p, phaseColor, g);
  const e = phaseCoreEllipse.ell, u = unitPx(p);
  const ring = mk('ellipse', {cx:p.x(e[0]), cy:p.y(e[1]), rx:e[2] * u, ry:e[3] * u, fill:'none', stroke:'#e6dfe0', 'stroke-width':1.8}, g);
  
  
  phaseCoreInner.forEach(l => drawRegion(l, p, phaseColor, g));
}

/* axes */
[panelA1, panelA2].forEach(p => drawAxes(p, arrayTicks, arrayTickLabels, arrayTicks, arrayTickLabels));
[panelB1, panelB2, panelC1, panelC2].forEach(p => drawAxes(p, uvTicks, uvTickLabels, uvTicks, uvTickLabels));

/* colorbars */
const ampGrad = document.getElementById('amp-grad');
orRdStops.forEach((c, i) => {
  const s = document.createElementNS(NS, 'stop');
  s.setAttribute('offset', i / (orRdStops.length - 1));
  s.setAttribute('stop-color', c);
  ampGrad.appendChild(s);
});
const phaseGrad = document.getElementById('phase-grad');
twilightStops.forEach((c, i) => {
  const s = document.createElementNS(NS, 'stop');
  s.setAttribute('offset', i / (twilightStops.length - 1));
  s.setAttribute('stop-color', c);
  phaseGrad.appendChild(s);
});
{
  const y = linear(0, amplitudeMax, 712, 124);
  const bar = mk('rect', {x:900, y:124, width:29, height:588, fill:'url(#amp-grad)'});
  
  
  barFrame(900, 929, 124, 712);
  ampBarTicks.forEach(t => { barTick(929, y(t), 17); barLabel(965, y(t) + 19, String(t), false); });
}
{
  const y = linear(-Math.PI, Math.PI, 1490, 902);
  const bar = mk('rect', {x:900, y:902, width:29, height:588, fill:'url(#phase-grad)'});
  
  
  barFrame(900, 929, 902, 1490);
  phaseBarTicks.forEach(t => barTick(929, y(t), 17));
  phaseBarLabels({x:970, posCx:994.5, negCx:1056}, y);
}
{
  const y = linear(-30, 0, 712, 124.5);
  dbBandColors.forEach((c, i) => {
    const b = mk('rect', {x:3024, y:y(dbMin + (i + 1) * dbBandStep), width:30, height:y(dbMin + i * dbBandStep) - y(dbMin + (i + 1) * dbBandStep) + 0.5, fill:c});
    
    
  });
  barFrame(3024, 3054, 124.5, 712);
  dbBarTicks.forEach((t, i) => {
    barTick(3054, y(t), 17);
    barLabel(t === 0 ? 3088 : 3095, y(t) + 19, dbBarTickLabels[i], false);
  });
}
{
  const y = linear(-Math.PI, Math.PI, 1490, 903);
  phaseBandColors.forEach((c, i) => {
    const v0 = -Math.PI + i * Math.PI / 4, v1 = v0 + Math.PI / 4;
    const b = mk('rect', {x:3024, y:y(v1), width:30, height:y(v0) - y(v1) + 0.5, fill:c});
    
    
  });
  barFrame(3024, 3054, 903, 1490);
  phaseBarTicks.forEach(t => barTick(3054, y(t), 17));
  phaseBarLabels({x:3095, posCx:3118, negCx:3181}, y);
}
</script>
</body>
</html>
